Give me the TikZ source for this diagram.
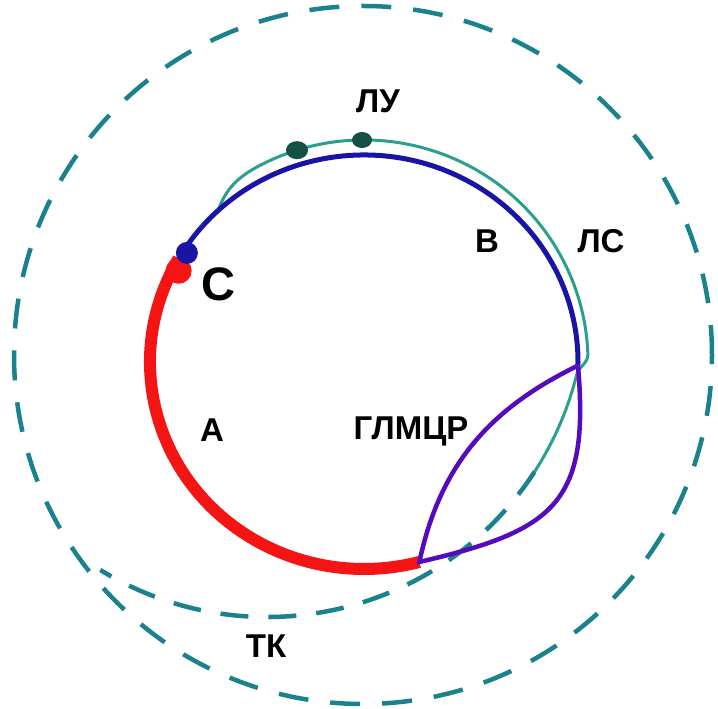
\documentclass[tikz,border=0pt]{standalone}
\usepackage{fontspec}
\setmainfont{Liberation Sans}
\usepackage{tikz}
\definecolor{arcred}{RGB}{245,20,20}
\definecolor{arcblue}{RGB}{25,20,165}
\definecolor{lensviolet}{RGB}{85,10,190}
\definecolor{lsteal}{RGB}{40,160,140}
\definecolor{tkteal}{RGB}{25,130,140}
\definecolor{nodegreen}{RGB}{20,80,70}

\begin{document}
\begin{tikzpicture}[x=1pt,y=1pt,
    lbl/.style={font=\fontsize{33}{33}\selectfont\bfseries,anchor=base,inner sep=0pt},
    tkdash/.style={tkteal,line width=4.5pt,dash pattern=on 30pt off 22pt},
    lsline/.style={lsteal,line width=3pt},
  ]
  \useasboundingbox (0,0) rectangle (718,709);
  % centres: loop, outer ring, inner dashed arc
  \coordinate (o) at (364,347);
  \coordinate (ok) at (363,354);
  \coordinate (oi) at (267,411);
  % points on the loop
  \coordinate (c) at ([shift={(o)}]150:214 and 207);
  \coordinate (t0) at ([shift={(o)}]133:214 and 207);
  \coordinate (v1) at ([shift={(o)}]-1:214 and 207);
  \coordinate (v2) at ([shift={(o)}]-75:214 and 207);
  % outer dashed ring
  \draw[tkdash] (ok) circle[radius=349];
  % lymph line: along the loop, then into the lens
  \draw[lsline] (t0) to[out=70,in=208] ([shift={(o)}]118:224 and 222)
    arc[start angle=118,end angle=2,x radius=224,y radius=222]
    to[out=-88,in=76] ([shift={(oi)}]-14:319)
    arc[start angle=-14,end angle=-33,radius=319];
  \draw[tkdash,dash pattern=on 28pt off 20pt] ([shift={(oi)}]-33:319)
    arc[start angle=-33,end angle=-121.5,radius=319];
  % nodes on the lymph line
  \fill[nodegreen] ([shift={(o)}]107.4:224 and 222) ellipse[x radius=11,y radius=9];
  \fill[nodegreen] ([shift={(o)}]90.5:224 and 222) ellipse[x radius=10,y radius=8];
  % loop: venous and arterial parts
  \draw[arcblue,line width=5pt] (c) arc[start angle=150,end angle=-1,x radius=214,y radius=207];
  \draw[arcred,line width=12pt] (c) arc[start angle=150,end angle=285,x radius=214,y radius=207];
  % microcirculation lens
  \draw[lensviolet,line width=4.5pt] (v1) to[out=-85,in=13,looseness=1.4] (v2)
    to[out=78,in=206] (v1);
  % heart drop
  \fill[arcred] ([shift={(o)}]153:208 and 201) circle[radius=13];
  \fill[arcblue] ([shift={(o)}]147.5:210 and 203) circle[radius=11];
  % labels
  \node[lbl] (lu) at (378,596) {ЛУ};
  \node[lbl] (v) at (487,456) {В};
  \node[lbl] (ls) at (601,456) {ЛС};
  \node[lbl,font=\fontsize{47}{47}\selectfont\bfseries] (cc) at (218,408) {С};
  \node[lbl] (a) at (212,267) {А};
  \node[lbl] (glmcr) at (411,269) {ГЛМЦР};
  \node[lbl] (tk) at (266,51) {ТК};
\end{tikzpicture}
\end{document}
